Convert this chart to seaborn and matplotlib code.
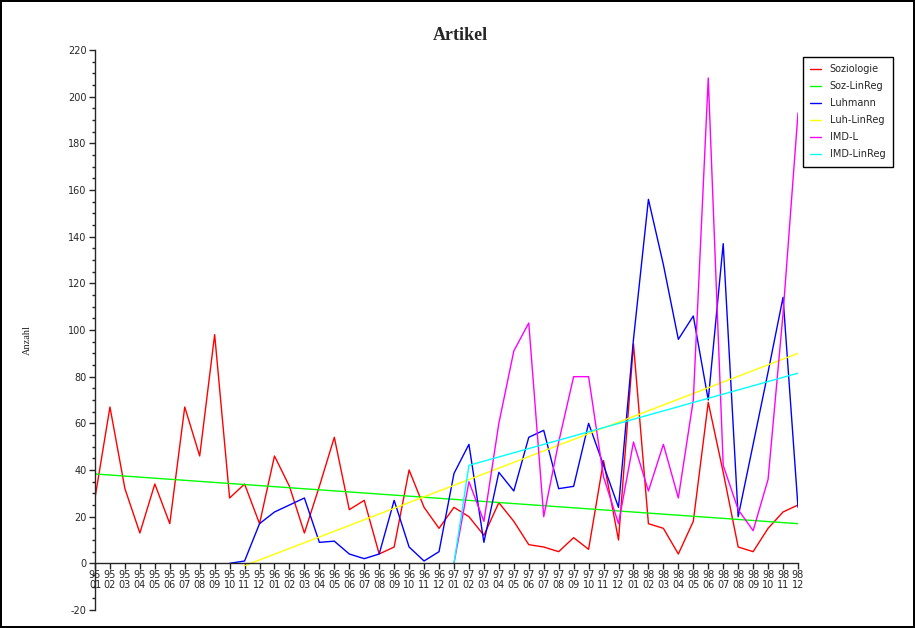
import matplotlib
matplotlib.use("Agg")
import matplotlib.pyplot as plt
import seaborn as sns
import pandas as pd
from matplotlib.ticker import MultipleLocator

sns.set_style("ticks")
plt.rcParams['font.family'] = ['DejaVu Sans']
plt.rcParams['axes.unicode_minus'] = False

# ---- data ----
years = ["95", "96", "97", "98"]
months = ["01", "02", "03", "04", "05", "06", "07", "08", "09", "10", "11", "12"]
tick_labels = [f"{y}\n{m}" for y in years for m in months]

soziologie = [28, 67, 32, 13, 34, 17, 67, 46, 98, 28, 34, 17,
              46, 33, 13, 33, 54, 23, 27, 4, 7, 40, 24, 15,
              24, 20, 12, 26, 18, 8, 7, 5, 11, 6, 44, 10,
              94, 17, 15, 4, 18, 69, 39, 7, 5, 15, 22, 25]
soz_linreg_x = [0, 47]
soz_linreg = [38.3, 17.0]

luhmann_x = list(range(9, 48))
luhmann = [0, 1, 17, 22, 25, 28, 9, 9.5, 4, 2, 4, 27, 7, 1, 5,
           38.5, 51, 9, 39, 31, 54, 57, 32, 33, 60, 42, 24,
           96, 156, 128, 96, 106, 70, 137, 20, 51, 82, 114, 24]
luh_linreg_x = [10, 47]
luh_linreg = [-1, 90]

imd_x = list(range(24, 48))
imd = [0, 35, 18, 60, 91, 103, 20, 52, 80, 80, 37, 17,
       52, 31, 51, 28, 70, 208, 42, 23, 14, 36, 107, 193]
imd_linreg_x = [24, 25, 47]
imd_linreg = [0, 42, 81.5]

series = [
    ("Soziologie", list(range(48)), soziologie, "#ff0000"),
    ("Soz-LinReg", soz_linreg_x, soz_linreg, "#00ff00"),
    ("Luhmann", luhmann_x, luhmann, "#0000ff"),
    ("Luh-LinReg", luh_linreg_x, luh_linreg, "#ffff00"),
    ("IMD-L", imd_x, imd, "#ff00ff"),
    ("IMD-LinReg", imd_linreg_x, imd_linreg, "#00ffff"),
]

fig = plt.figure(figsize=(9.15, 6.28), dpi=100)
fig.patch.set_facecolor("white")
fig.patch.set_edgecolor("black")
fig.patch.set_linewidth(1.5)
ax = fig.add_axes([95 / 915, 18 / 628, (798 - 95) / 915, (610 - 50) / 628])

for name, xs, ys, col in series:
    df = pd.DataFrame({"x": xs, "y": ys})
    sns.lineplot(data=df, x="x", y="y", ax=ax, color=col, label=name,
                 linewidth=1.0, estimator=None, sort=False)

ax.set_xlim(0, 47)
ax.set_ylim(-20, 220)
ax.spines['top'].set_visible(False)
ax.spines['right'].set_visible(False)
ax.spines['bottom'].set_position(('data', 0))
ax.spines['left'].set_linewidth(1.0)
ax.spines['bottom'].set_linewidth(1.0)

ax.set_xticks(range(48))
ax.set_xticklabels(tick_labels, fontsize=7, linespacing=1.0)
ax.yaxis.set_major_locator(MultipleLocator(20))
ax.yaxis.set_minor_locator(MultipleLocator(5))
ax.tick_params(axis='y', which='major', labelsize=7, length=4, width=1, direction='out', pad=2)
ax.tick_params(axis='y', which='minor', length=2, width=1, direction='out')
ax.tick_params(axis='x', which='major', length=4, width=1, direction='out', pad=1)
ax.set_xlabel("")
ax.set_ylabel("")

fig.text(460 / 915, 1 - 35 / 628, "Artikel", ha="center", va="center",
         fontsize=13, fontweight="bold", family=["Liberation Serif"])
fig.text(27 / 915, 1 - 340 / 628, "Anzahl", ha="center", va="center",
         rotation=90, fontsize=7.5, family=["Liberation Serif"])

leg = ax.legend(loc="upper left", bbox_to_anchor=(803 / 915, 1 - 57 / 628),
                bbox_transform=fig.transFigure, fontsize=7, frameon=True,
                fancybox=False, framealpha=1, edgecolor="black",
                handlelength=1.1, handletextpad=0.9, labelspacing=0.72,
                borderpad=0.75, borderaxespad=0)
leg.get_frame().set_linewidth(1.0)

fig.savefig("out.png", dpi=100)
